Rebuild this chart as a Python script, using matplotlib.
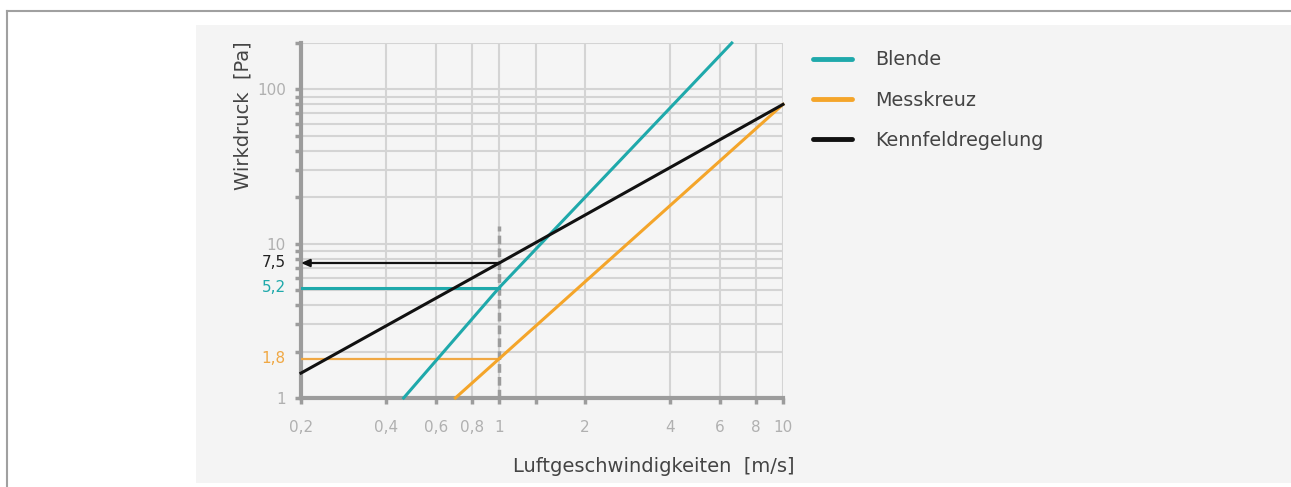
import matplotlib
matplotlib.use("Agg")
import matplotlib.pyplot as plt
from matplotlib.lines import Line2D
from matplotlib.patches import Rectangle
from matplotlib.ticker import FixedLocator, NullFormatter, NullLocator

# ---- data ----
series_names = ["Blende", "Messkreuz", "Kennfeldregelung"]
series_colors = ["#1fa9ab", "#f4a52a", "#111111"]

blende_v = [0.46, 1.0, 6.6]
blende_p = [1.0, 5.2, 200.0]

messkreuz_v = [0.70, 1.0, 10.0]
messkreuz_p = [1.0, 1.8, 80.0]

kennfeld_v = [0.2, 1.0, 10.0]
kennfeld_p = [1.45, 7.5, 80.0]

ref_speed = 1.0
ref_values = [7.5, 5.2, 1.8]
ref_labels = ["7,5", "5,2", "1,8"]
ref_colors = ["#222222", "#1fa9ab", "#f0a844"]

x_ticks = [0.2, 0.4, 0.6, 0.8, 1, 2, 4, 6, 8, 10]
x_ticklabels = ["0,2", "0,4", "0,6", "0,8", "1", "2", "4", "6", "8", "10"]
x_minor = [1.35]
y_ticks = [1, 10, 100]
y_ticklabels = ["1", "10", "100"]
y_minor = [2, 3, 4, 5, 6, 7, 8, 9, 20, 30, 40, 50, 60, 70, 80, 90, 200]

x_label = "Luftgeschwindigkeiten  [m/s]"
y_label = "Wirkdruck  [Pa]"

plt.rcParams["font.family"] = ["DejaVu Sans"]

W, H = 1291, 487
fig = plt.figure(figsize=(W / 100, H / 100), dpi=100)
fig.patch.set_facecolor("white")

# outer frame lines and panel
fig.add_artist(Line2D([7 / W, 1], [1 - 11 / H, 1 - 11 / H], color="#a0a0a0", lw=1.5, transform=fig.transFigure))
fig.add_artist(Line2D([7 / W, 7 / W], [0, 1 - 11 / H], color="#a0a0a0", lw=1.5, transform=fig.transFigure))
fig.add_artist(Rectangle((196 / W, 4 / H), 1 - 196 / W, (483 - 25) / H, facecolor="#f4f4f4",
                         edgecolor="none", transform=fig.transFigure, zorder=0))

ax = fig.add_axes([301 / W, (H - 398) / H, (783 - 301) / W, (398 - 43) / H])
ax.set_facecolor("#f5f5f5")
ax.set_xscale("log")
ax.set_yscale("log")
ax.set_xlim(0.2, 10)
ax.set_ylim(1, 200)

grid_c = "#d4d4d4"
ax.xaxis.set_major_locator(FixedLocator(x_ticks))
ax.xaxis.set_minor_locator(FixedLocator(x_minor))
ax.xaxis.set_minor_formatter(NullFormatter())
ax.set_xticklabels(x_ticklabels)
ax.yaxis.set_major_locator(FixedLocator(y_ticks))
ax.yaxis.set_minor_locator(FixedLocator(y_minor))
ax.yaxis.set_minor_formatter(NullFormatter())
ax.set_yticklabels(y_ticklabels)

ax.grid(True, which="major", axis="both", color=grid_c, lw=1.5, zorder=0)
ax.grid(True, which="minor", axis="both", color=grid_c, lw=1.5, zorder=0)
ax.set_axisbelow(True)

for s in ["top", "right"]:
    ax.spines[s].set_visible(False)
for s in ["left", "bottom"]:
    ax.spines[s].set_color("#9c9c9c")
    ax.spines[s].set_linewidth(3)

ax.tick_params(axis="both", which="both", direction="out", color="#9c9c9c", width=2.5, length=4)
ax.tick_params(axis="x", labelsize=11, labelcolor="#b0b0b0", pad=12)
ax.tick_params(axis="y", labelsize=11, labelcolor="#b0b0b0", pad=7)

# reference helper lines
ax.plot([ref_speed, ref_speed], [1, 13], color="#9c9c9c", lw=2.5, ls=(0, (2.5, 1.2)), zorder=3,
        solid_capstyle="butt")
ax.plot([0.2, ref_speed], [ref_values[1], ref_values[1]], color=series_colors[0], lw=2.2, zorder=4)
ax.plot([0.2, ref_speed], [ref_values[2], ref_values[2]], color=ref_colors[2], lw=1.6, zorder=4)
ax.annotate("", xy=(0.2, ref_values[0]), xytext=(ref_speed, ref_values[0]),
            arrowprops=dict(arrowstyle="-|>,head_length=0.5,head_width=0.22", color="#111111", lw=1.6,
                            shrinkA=0, shrinkB=0), zorder=5)

# series lines
ax.plot(blende_v, blende_p, color=series_colors[0], lw=2.2, zorder=5, clip_on=False)
ax.plot(messkreuz_v, messkreuz_p, color=series_colors[1], lw=2.2, zorder=5, clip_on=False)
ax.plot(kennfeld_v, kennfeld_p, color=series_colors[2], lw=2.2, zorder=6, clip_on=False)

# colored reference labels on the y axis
for val, lab, col in zip(ref_values, ref_labels, ref_colors):
    ax.text(-0.032, val, lab, color=col, fontsize=11, ha="right", va="center",
            transform=ax.get_yaxis_transform())

# axis labels
fig.text(654 / W, 1 - 466 / H, x_label, fontsize=14, color="#444444", ha="center", va="center")
fig.text(243 / W, 1 - 116 / H, y_label, fontsize=14, color="#444444", ha="center", va="center",
         rotation=90)

# legend
handles = [Line2D([], [], color=c, lw=3.5, solid_capstyle="round") for c in series_colors]
leg = fig.legend(handles, series_names, loc="upper left", bbox_to_anchor=(796 / W, 1 - 33 / H),
                 frameon=False, fontsize=13.8, handlelength=2.0, handletextpad=1.25, labelspacing=1.12)
for t in leg.get_texts():
    t.set_color("#444444")

fig.savefig("out.png", dpi=100, facecolor=fig.get_facecolor())
